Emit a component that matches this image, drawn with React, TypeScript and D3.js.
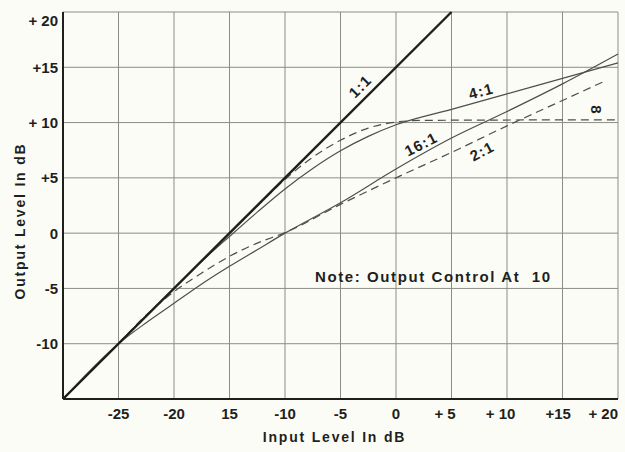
import React from "react";
import * as d3 from "d3";

// ---- data ----
const X_TICKS = [-25, -20, -15, -10, -5, 0, 5, 10, 15, 20];
const X_TICK_LABELS = ["-25", "-20", "15", "-10", "-5", "0", "+ 5", "+ 10", "+15", "+ 20"];
const Y_TICKS = [20, 15, 10, 5, 0, -5, -10];
const Y_TICK_LABELS = ["+ 20", "+15", "+ 10", "+5", "0", "-5", "-10"];

const ONE_TO_ONE_IN = [-30, 5];
const ONE_TO_ONE_OUT = [-15, 20];

const INF_IN = [-30, -20, -15, -12, -10, -8, -5, -2.5, 0, 2.5, 20];
const INF_OUT = [-15, -5, 0, 2.95, 4.85, 6.5, 8.4, 9.5, 10.05, 10.2, 10.25];

const FOUR_IN = [-30, -20, -17.5, -15, -12.5, -10, -7.5, -5, -2.5, 0, 5, 10, 15, 20];
const FOUR_OUT = [-15, -5, -2.55, -0.3, 1.9, 4.0, 5.85, 7.45, 8.75, 9.8, 11.2, 12.6, 14.0, 15.4];

const SIXTEEN_IN = [-30, -25, -22.5, -20, -17.5, -15, -12.5, -10, -5, 0, 5, 10, 15, 20];
const SIXTEEN_OUT = [-15, -10, -8.1, -6.35, -4.6, -3.0, -1.5, 0, 2.75, 5.8, 8.6, 11.0, 13.5, 16.2];

const TWO_IN = [-30, -25, -22.5, -20, -17.5, -15, -12.5, -10, -5, 0, 5, 10, 15, 18.7];
const TWO_OUT = [-15, -10, -7.4, -5.3, -3.6, -2.1, -0.9, 0.05, 2.6, 5.0, 7.3, 9.7, 12.0, 13.7];

const CURVE_LABELS = ["1:1", "4:1", "16:1", "2:1", "8"];
const NOTE_TEXT = "Note: Output Control At  10";
const X_TITLE = "Input Level In dB";
const Y_TITLE = "Output Level In dB";

// ---- layout / style ----
const W = 625;
const H = 452;
const FONT = "'Liberation Sans', Arial, Helvetica, sans-serif";
const INK = "#1f1f1c";
const GRID = "#8d8d86";
const LINE = "#4f4f4a";
const BG = "#fcfcf7";

export default function App() {
  const x = d3.scaleLinear().domain([-30, 20]).range([63, 618]);
  const y = d3.scaleLinear().domain([-15, 20]).range([399, 12]);

  const lineGen = d3
    .line<[number, number]>()
    .x((d) => x(d[0]))
    .y((d) => y(d[1]))
    .curve(d3.curveMonotoneX);

  const zip = (a: number[], b: number[]) => a.map((v, i) => [v, b[i]] as [number, number]);

  const series = [
    { pts: zip(INF_IN, INF_OUT), dash: "8,5", w: 1.2 },
    { pts: zip(FOUR_IN, FOUR_OUT), dash: undefined, w: 1.2 },
    { pts: zip(SIXTEEN_IN, SIXTEEN_OUT), dash: undefined, w: 1.2 },
    { pts: zip(TWO_IN, TWO_OUT), dash: "8,5", w: 1.2 },
  ];

  // annotation anchors in data units
  const labelPos = [
    { x: -3.24, y: 13.3, r: -45 },
    { x: 7.66, y: 12.86, r: -15 },
    { x: 2.25, y: 8.06, r: -27 },
    { x: 7.75, y: 7.43, r: -28 },
    { x: 18.1, y: 11.14, r: 90 },
  ];

  const xMin = x.domain()[0];
  const xMax = x.domain()[1];
  const yMin = y.domain()[0];
  const yMax = y.domain()[1];

  return (
    <svg
      width={W}
      height={H}
      style={{ position: "absolute", left: 0, top: 0, background: BG }}
      fontFamily={FONT}
    >
      <rect x={0} y={0} width={W} height={H} fill={BG} />
      {/* grid */}
      {X_TICKS.map((t) => (
        <line key={"gx" + t} x1={x(t)} x2={x(t)} y1={y(yMin)} y2={y(yMax)} stroke={GRID} strokeWidth={1} />
      ))}
      {Y_TICKS.map((t) => (
        <line key={"gy" + t} x1={x(xMin)} x2={x(xMax)} y1={y(t)} y2={y(t)} stroke={GRID} strokeWidth={1} />
      ))}
      {/* axes frame (left & bottom heavy) */}
      <line x1={x(xMin)} x2={x(xMin)} y1={y(yMin)} y2={y(yMax)} stroke={INK} strokeWidth={2} />
      <line x1={x(xMin)} x2={x(xMax)} y1={y(yMin)} y2={y(yMin)} stroke={INK} strokeWidth={2.2} />

      {/* curves */}
      {series.map((s, i) => (
        <path
          key={"s" + i}
          d={lineGen(s.pts) || ""}
          fill="none"
          stroke={LINE}
          strokeWidth={s.w}
          strokeDasharray={s.dash}
        />
      ))}
      <path
        d={lineGen(zip(ONE_TO_ONE_IN, ONE_TO_ONE_OUT)) || ""}
        fill="none"
        stroke={INK}
        strokeWidth={2.4}
      />

      {/* curve labels */}
      {CURVE_LABELS.map((t, i) => {
        const p = labelPos[i];
        return (
          <text
            key={"cl" + i}
            transform={`translate(${x(p.x)},${y(p.y)}) rotate(${p.r})`}
            textAnchor="middle"
            dominantBaseline="central"
            fontSize={15}
            fontWeight="bold"
            letterSpacing={1.2}
            fill={INK}
          >
            {t}
          </text>
        );
      })}

      {/* note */}
      <text
        x={x(-7.3)}
        y={y(-4.4)}
        fontSize={15}
        fontWeight="bold"
        letterSpacing={1.6}
        fill={INK}
        style={{ whiteSpace: "pre" }}
      >
        {NOTE_TEXT}
      </text>

      {/* y tick labels */}
      {Y_TICKS.map((t, i) => (
        <text
          key={"yl" + t}
          x={x(xMin) - 5}
          y={y(t) + (i === 0 ? 8 : 0)}
          textAnchor="end"
          dominantBaseline="central"
          fontSize={15}
          fontWeight="bold"
          fill={INK}
          style={{ whiteSpace: "pre" }}
        >
          {Y_TICK_LABELS[i]}
        </text>
      ))}

      {/* x tick labels */}
      {X_TICKS.map((t, i) => {
        const lab = X_TICK_LABELS[i];
        const plus = lab.startsWith("+");
        const num = lab.replace(/[+\s]/g, "");
        const endX = Math.min(x(t) + num.length * 4.2, x(xMax));
        return (
          <text
            key={"xl" + t}
            x={plus ? endX : x(t)}
            y={419}
            textAnchor={plus ? "end" : "middle"}
            fontSize={15}
            fontWeight="bold"
            fill={INK}
            style={{ whiteSpace: "pre" }}
          >
            {lab}
          </text>
        );
      })}

      {/* axis titles */}
      <text
        x={(x(xMin) + x(xMax)) / 2 - 6}
        y={442}
        textAnchor="middle"
        fontSize={14}
        fontWeight="bold"
        letterSpacing={1.8}
        fill={INK}
      >
        {X_TITLE}
      </text>
      <text
        transform={`translate(25,221) rotate(-90)`}
        textAnchor="middle"
        fontSize={14}
        fontWeight="bold"
        letterSpacing={1.8}
        fill={INK}
      >
        {Y_TITLE}
      </text>
    </svg>
  );
}
